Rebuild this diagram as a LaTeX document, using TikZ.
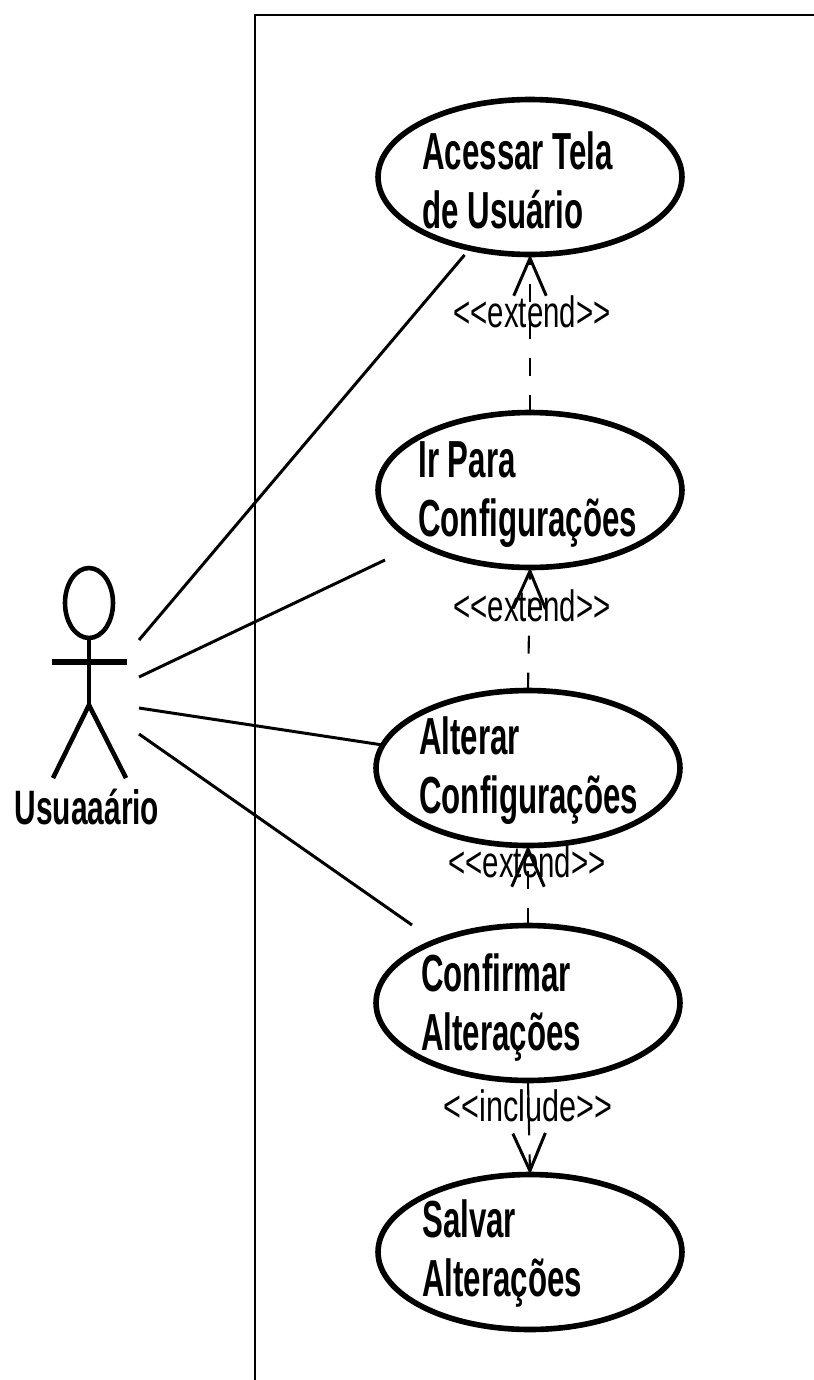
\documentclass[tikz,border=0pt]{standalone}
\usepackage{fontspec}
\usepackage{graphicx}
\setmainfont{Liberation Sans}
\usetikzlibrary{shapes.geometric,arrows.meta}
\newcommand{\casetext}[1]{\scalebox{0.635}[1.06]{\begin{tabular}{@{}l@{}}#1\end{tabular}}}
\newcommand{\stereotext}[1]{\scalebox{0.67}[1]{#1}}
\tikzset{
  usecase/.style={draw,ellipse,line width=3.2pt,minimum width=6.08cm,minimum height=3.1cm,inner sep=0pt,outer sep=0pt},
  caselabel/.style={anchor=west,inner sep=0pt,font=\bfseries\fontsize{28}{32}\selectfont},
  stereolabel/.style={inner sep=0pt,font=\fontsize{25}{30}\selectfont},
  relation/.style={line width=1.2pt,dash pattern=on 0.36cm off 0.38cm,-{Straight Barb[length=0.75cm,width=0.65cm,line width=1.7pt]}},
  association/.style={line width=1.7pt},
  actorline/.style={line width=2.6pt}
}
\begin{document}
\begin{tikzpicture}[x=0.02cm,y=-0.02cm]
  \useasboundingbox (0,0) rectangle (814,1380);
  % system boundary
  \draw[line width=1.7pt] (255,1380) |- (814,15);
  % use cases
  \node[usecase] (acessar) at (530,177) {};
  \node[usecase] (configuracoes) at (530,490) {};
  \node[usecase] (alterar) at (528,768) {};
  \node[usecase] (confirmar) at (528,1003) {};
  \node[usecase] (salvar) at (530,1252) {};
  \node[caselabel] (acessarlabel) at (422,187) {\casetext{Acessar Tela\\de Usuário}};
  \node[caselabel] (configuracoeslabel) at (418,495) {\casetext{Ir Para\\Configurações}};
  \node[caselabel] (alterarlabel) at (419,772) {\casetext{Alterar\\Configurações}};
  \node[caselabel] (confirmarlabel) at (421,1009) {\casetext{Confirmar\\Alterações}};
  \node[caselabel] (salvarlabel) at (422,1255) {\casetext{Salvar\\Alterações}};
  % actor
  \node[draw,ellipse,line width=2.6pt,minimum width=0.96cm,minimum height=1.4cm,inner sep=0pt,outer sep=0pt] (head) at (89,603) {};
  \coordinate (hip) at (89,705);
  \coordinate (armleft) at (52,662);
  \coordinate (armright) at (127,662);
  \coordinate (footleft) at (53,778);
  \coordinate (footright) at (126,778);
  \draw[actorline] (head.south) -- (hip);
  \draw[line width=3.2pt] (armleft) -- (armright);
  \draw[actorline] (footleft) -- (hip) -- (footright);
  \node[inner sep=0pt,font=\bfseries\fontsize{25}{30}\selectfont] (usuario) at (87,807) {\scalebox{0.68}[1.1]{Usuaaário}};
  % associations
  \coordinate (usuarioa) at (139,640);
  \coordinate (usuariob) at (139,677);
  \coordinate (usuarioc) at (139,708);
  \coordinate (usuariod) at (139,734);
  \coordinate (configuracoesend) at (385,560);
  \coordinate (confirmarend) at (412,925);
  \draw[association,shorten >=5pt] (usuarioa) -- (acessar.230);
  \draw[association] (usuariob) -- (configuracoesend);
  \draw[association] (usuarioc) -- (alterar.171);
  \draw[association] (usuariod) -- (confirmarend);
  % extend and include
  \draw[relation] (configuracoes.north) -- (acessar.south);
  \draw[relation] (alterar.north) -- (configuracoes.south);
  \draw[relation] (confirmar.north) -- (alterar.south);
  \draw[relation] (confirmar.south) -- (salvar.north);
  \node[stereolabel] (extenda) at (532,312) {\stereotext{<{}<extend>{}>}};
  \node[stereolabel] (extendb) at (532,606) {\stereotext{<{}<extend>{}>}};
  \node[stereolabel] (extendc) at (527,862) {\stereotext{<{}<extend>{}>}};
  \node[stereolabel] (includea) at (528,1106) {\scalebox{1.04}[1]{\stereotext{<{}<include>{}>}}};
\end{tikzpicture}
\end{document}
